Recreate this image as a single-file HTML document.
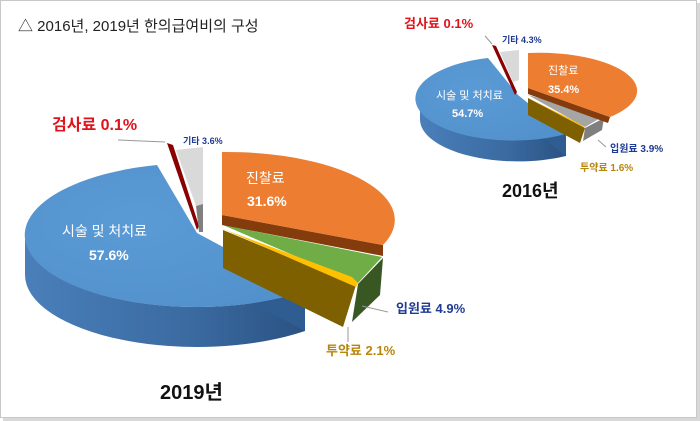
<!DOCTYPE html>
<html><head><meta charset="utf-8"><style>
body{margin:0;background:#fff}
svg{display:block}
text{font-family:"Liberation Sans","Noto Sans CJK KR",sans-serif}
</style></head><body>
<svg width="700" height="421" viewBox="0 0 700 421">
<defs>
<linearGradient id="bs" x1="0" x2="1" y1="0" y2="0"><stop offset="0" stop-color="#4a7fba"/><stop offset="0.6" stop-color="#3a6aa0"/><stop offset="1" stop-color="#2b5283"/></linearGradient>
<radialGradient id="bt" cx="0.4" cy="0.4" r="0.7"><stop offset="0" stop-color="#5b9bd5"/><stop offset="1" stop-color="#5291cc"/></radialGradient>
</defs>
<rect x="0.5" y="0.5" width="696" height="417" fill="#fff" stroke="#c8c8c8"/>
<rect x="697" y="3" width="3" height="418" fill="#d8d8d8"/>
<rect x="3" y="418" width="697" height="3" fill="#d8d8d8"/>
<text x="18" y="31" font-size="15" fill="#222">△ 2016년, 2019년 한의급여비의 구성</text>

<!-- BIG PIE 2019 -->
<path d="M25,235 A172,72 0 0 0 305,291 L305,331 A172,72 0 0 1 25,275 Z" fill="url(#bs)"/>
<path d="M305,291 L197,235 L197,275 L305,331 Z" fill="#2f5d92"/>
<path d="M197,233 L157,165 A172,72 0 1 0 305,291 Z" fill="url(#bt)"/>
<!-- gold face -->
<path d="M223,230 L356,285 L343,327 L223,268 Z" fill="#7f6000"/>
<!-- green side -->
<path d="M358,284 L383,258 L380,295 L352,322 Z" fill="#385723"/>
<!-- green top -->
<path d="M223,225 L382,257 L358,283 Z" fill="#70ad47"/>
<!-- yellow top -->
<path d="M223,229 L352,277 L358,283 L356,287 Z" fill="#ffc000"/>
<!-- orange -->
<path d="M222,215 L383,245 L383,256 L222,225 Z" fill="#843c0c"/>
<path d="M222,215 L222,152 A168,68 0 0 1 383,245 Z" fill="#ed7d31"/>
<!-- red sliver & grey -->
<path d="M167,143 L173,145 L199,226 L197,230 Z" fill="#8b0000"/>
<path d="M176,150 L203,147 L203,204 L196,206 Z" fill="#d9d9d9"/>
<path d="M196,206 L203,204 L203,232 L199,232 Z" fill="#808080"/>
<polyline points="118,140 165,142" fill="none" stroke="#999" stroke-width="1"/>
<polyline points="362,306 388,312" fill="none" stroke="#999"/>
<polyline points="348,327 348,342" fill="none" stroke="#999"/>

<text x="52" y="130" font-size="16" font-weight="bold" fill="#e0131c">검사료 0.1%</text>
<text x="183" y="144" font-size="9" font-weight="bold" fill="#1f3a93">기타 3.6%</text>
<text x="246" y="183" font-size="14" fill="#fff">진찰료</text>
<text x="247" y="206" font-size="14" font-weight="bold" fill="#fff">31.6%</text>
<text x="62" y="236" font-size="14" fill="#fff">시술 및 처치료</text>
<text x="89" y="260" font-size="14" font-weight="bold" fill="#fff">57.6%</text>
<text x="396" y="313" font-size="13" font-weight="bold" fill="#1f3a93">입원료 4.9%</text>
<text x="326" y="355" font-size="13" font-weight="bold" fill="#b8860b">투약료 2.1%</text>
<text x="160" y="399" font-size="20" font-weight="bold" fill="#111">2019년</text>

<!-- SMALL PIE 2016 -->
<path d="M420,97 A98,42 0 0 0 566,134 L566,156 A98,42 0 0 1 420,119 Z" fill="url(#bs)"/>
<path d="M566,134 L518,97 L518,119 L566,156 Z" fill="#2f5d92"/>
<path d="M518,95 L488,58 A98,42 0 1 0 566,134 Z" fill="url(#bt)"/>
<path d="M528,98 L585,128 L580,143 L528,115 Z" fill="#7f6000"/>
<path d="M528,98 L581,124 L585,128 Z" fill="#ffc000"/>
<path d="M585,128 L604,118 L602,130 L583,141 Z" fill="#7f7f7f"/>
<path d="M528,95 L604,116 L585,127 Z" fill="#a5a5a5"/>
<path d="M528,88 L610,117 L608,123 L528,94 Z" fill="#843c0c"/>
<path d="M528,88 L528,53 A98,38 0 0 1 610,117 Z" fill="#ed7d31"/>
<path d="M492,45 L496,46 L517,92 L515,95 Z" fill="#8b0000"/>
<path d="M500,52 L519,50 L519,80 L513,82 Z" fill="#d9d9d9"/>
<polyline points="485,36 492,44" fill="none" stroke="#999"/>
<polyline points="598,140 606,147" fill="none" stroke="#999"/>

<text x="404" y="28" font-size="13" font-weight="bold" fill="#e0131c">검사료 0.1%</text>
<text x="502" y="43" font-size="9" font-weight="bold" fill="#1f3a93">기타 4.3%</text>
<text x="548" y="74" font-size="11" fill="#fff">진찰료</text>
<text x="548" y="93" font-size="11" font-weight="bold" fill="#fff">35.4%</text>
<text x="436" y="99" font-size="11" fill="#fff">시술 및 처치료</text>
<text x="452" y="117" font-size="11" font-weight="bold" fill="#fff">54.7%</text>
<text x="610" y="152" font-size="10" font-weight="bold" fill="#1f3a93">입원료 3.9%</text>
<text x="580" y="171" font-size="10" font-weight="bold" fill="#b8860b">투약료 1.6%</text>
<text x="502" y="197" font-size="18" font-weight="bold" fill="#111">2016년</text>
</svg>
</body></html>
